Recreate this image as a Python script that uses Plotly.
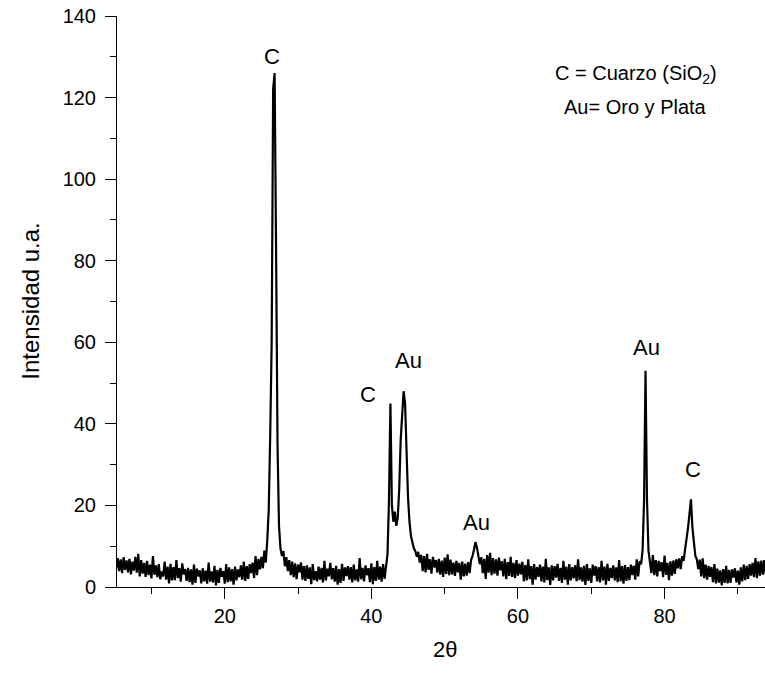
import numpy as np
import plotly.graph_objects as go

# X-ray diffraction scan: 2-theta from 5.0 to 93.8 degrees, step 0.2
theta_start = 5.0
theta_step = 0.2

# Measured intensity (arbitrary units), one row per 2 degrees
intensity = [
    8.0, 4.6, 7.1, 3.9, 6.8, 3.4, 7.3, 4.2, 6.5, 3.6,        # 5.0
    6.9, 3.1, 6.2, 4.0, 7.4, 3.5, 8.1, 2.6, 6.6, 3.3,        # 7.0
    5.9, 2.5, 6.4, 2.9, 5.5, 2.1, 7.6, 3.0, 5.3, 2.4,        # 9.0
    5.6, 1.9, 3.8, 2.6, 6.2, 1.8, 5.0, 0.9, 5.7, 1.6,        # 11.0
    4.9, 1.7, 6.6, 2.2, 4.6, 1.3, 5.8, 3.1, 4.4, 1.5,        # 13.0
    4.7, 1.2, 4.3, 0.6, 5.5, 1.0, 4.5, 2.6, 4.1, 0.9,        # 15.0
    4.6, 1.4, 4.0, 0.8, 6.0, 1.3, 3.8, 1.1, 5.2, 0.4,        # 17.0
    4.2, 1.0, 4.7, 2.5, 3.9, 0.8, 5.6, 1.2, 4.8, 1.4,        # 19.0
    4.4, 0.6, 5.0, 1.6, 4.3, 2.4, 5.3, 1.8, 6.2, 1.5,        # 21.0
    5.1, 2.0, 5.6, 3.4, 6.0, 2.2, 7.6, 2.9, 6.9, 4.3,        # 23.0
    7.4, 4.6, 8.9, 6.0, 11.5, 19.0, 37.0, 60.0, 122.0, 126.0,  # 25.0
    83.0, 35.0, 15.0, 9.5, 7.6, 8.8, 5.1, 7.3, 3.9, 6.6,     # 27.0
    2.9, 6.2, 2.4, 5.8, 1.9, 5.5, 3.6, 6.0, 1.8, 5.1,        # 29.0
    1.5, 5.3, 2.0, 4.8, 0.7, 5.6, 1.7, 3.9, 1.4, 5.0,        # 31.0
    1.8, 4.7, 1.1, 6.4, 1.6, 4.5, 2.6, 5.9, 1.9, 4.6,        # 33.0
    1.3, 5.2, 0.6, 4.4, 1.0, 5.7, 1.5, 4.8, 2.7, 5.1,        # 35.0
    1.8, 4.9, 1.1, 5.5, 1.6, 4.3, 1.3, 7.1, 1.9, 4.7,        # 37.0
    1.4, 5.3, 2.9, 4.6, 1.2, 5.8, 0.7, 4.9, 1.5, 6.4,        # 39.0
    1.8, 5.0, 1.3, 5.6, 2.0, 5.2, 8.0, 21.0, 45.0, 20.0,     # 41.0
    16.0, 18.5, 15.0, 17.0, 24.0, 36.0, 42.0, 48.0, 45.0, 30.0,  # 43.0
    22.0, 16.0, 12.5, 11.0, 9.5, 8.8, 7.4, 8.6, 6.0, 7.9,    # 45.0
    3.9, 7.6, 3.6, 8.1, 4.2, 6.8, 3.3, 7.4, 4.8, 6.6,        # 47.0
    3.5, 6.9, 3.0, 6.5, 2.5, 7.2, 3.2, 8.0, 2.9, 6.7,        # 49.0
    3.1, 6.0, 2.7, 6.4, 3.6, 5.9, 1.8, 6.2, 2.6, 5.7,        # 51.0
    2.8, 6.1, 3.4, 6.6, 7.6, 9.2, 11.0, 9.6, 7.8, 5.6,       # 53.0
    7.3, 3.4, 6.9, 2.0, 7.8, 3.5, 8.4, 2.9, 7.1, 3.3,        # 55.0
    6.8, 2.8, 7.2, 4.1, 6.3, 2.6, 6.9, 1.9, 6.1, 2.7,        # 57.0
    7.4, 2.5, 5.9, 2.2, 6.6, 2.8, 5.7, 3.1, 6.2, 1.4,        # 59.0
    5.4, 1.6, 6.8, 1.9, 5.1, 0.6, 5.6, 1.8, 4.9, 2.5,        # 61.0
    5.5, 1.4, 5.0, 1.1, 6.9, 1.7, 4.8, 0.5, 5.3, 1.6,        # 63.0
    5.1, 2.3, 5.7, 1.5, 4.7, 1.0, 6.4, 1.8, 5.0, 0.6,        # 65.0
    5.6, 1.6, 4.9, 2.1, 5.3, 1.4, 6.8, 1.7, 4.8, 1.3,        # 67.0
    5.2, 0.5, 5.6, 1.5, 4.6, 1.0, 5.5, 2.8, 5.1, 1.4,        # 69.0
    4.9, 1.1, 6.4, 1.6, 5.0, 0.6, 5.7, 1.5, 4.7, 2.2,        # 71.0
    5.3, 1.6, 4.8, 1.2, 6.6, 1.4, 5.1, 0.8, 5.4, 1.5,        # 73.0
    4.9, 1.7, 5.5, 2.9, 5.2, 1.8, 6.8, 2.6, 6.3, 5.6,        # 75.0
    9.0, 21.0, 53.0, 21.5, 9.0, 6.3, 3.4, 7.8, 2.9, 6.6,     # 77.0
    2.6, 6.4, 3.9, 6.1, 2.4, 7.7, 3.0, 5.9, 1.7, 6.3,        # 79.0
    2.8, 6.5, 3.2, 6.8, 4.6, 7.0, 4.4, 7.6, 6.4, 9.2,        # 81.0
    11.5, 14.5, 18.0, 21.5, 14.5, 10.5, 7.6, 6.8, 4.4, 6.7,  # 83.0
    2.6, 7.0, 2.2, 5.5, 1.8, 5.2, 2.5, 4.9, 1.2, 5.6,        # 85.0
    0.9, 4.5, 1.1, 4.1, 0.4, 4.4, 1.0, 5.2, 0.9, 4.2,        # 87.0
    1.0, 4.3, 2.3, 4.6, 1.1, 4.0, 0.6, 4.8, 1.4, 5.5,        # 89.0
    1.7, 5.2, 2.0, 5.6, 2.8, 5.9, 2.4, 7.1, 2.2, 6.3,        # 91.0
    2.8, 6.5, 3.0, 6.6, 3.2,                                 # 93.0
]
two_theta = np.round(theta_start + theta_step * np.arange(len(intensity)), 1)

# Phase labels placed above the peaks
peak_labels = ["C", "C", "Au", "Au", "Au", "C"]
peak_label_x = [26.4, 39.6, 45.1, 54.3, 77.5, 83.9]
peak_label_y = [130.0, 47.3, 55.6, 15.9, 58.8, 28.7]

legend_lines = ["C = Cuarzo (SiO<sub>2</sub>)", "Au= Oro y Plata"]
legend_y = [125.7, 117.6]
legend_x = 76.1

FONT = "Liberation Sans, Arial, sans-serif"

fig = go.Figure()
fig.add_trace(go.Scatter(
    x=two_theta, y=intensity, mode="lines",
    line=dict(color="black", width=2.2),
    showlegend=False, hoverinfo="skip",
))

for txt, xv, yv in zip(peak_labels, peak_label_x, peak_label_y):
    fig.add_annotation(x=xv, y=yv, text=txt, showarrow=False,
                       font=dict(family=FONT, size=22, color="black"))

for txt, yv in zip(legend_lines, legend_y):
    fig.add_annotation(x=legend_x, y=yv, text=txt, showarrow=False,
                       font=dict(family=FONT, size=20, color="black"))

# Axis titles
fig.add_annotation(xref="paper", yref="paper", x=-0.134, y=0.50,
                   xanchor="center", yanchor="middle",
                   text="Intensidad u.a.", textangle=-90, showarrow=False,
                   font=dict(family=FONT, size=24, color="black"))
fig.add_annotation(xref="paper", yref="paper", x=0.506, y=-0.11,
                   xanchor="center", yanchor="middle",
                   text="2θ", showarrow=False,
                   font=dict(family=FONT, size=22, color="black"))

axis_common = dict(
    showline=True, linecolor="black", linewidth=1,
    ticks="outside", ticklen=11, tickwidth=1, tickcolor="black",
    showgrid=False, zeroline=False, mirror=False,
    tickfont=dict(family=FONT, size=20, color="black"),
)

fig.update_xaxes(range=[5.3, 93.7], tick0=0, dtick=20, ticklabelstandoff=0,
                 minor=dict(ticks="outside", ticklen=6, dtick=10, tick0=0,
                            tickcolor="black", showgrid=False),
                 **axis_common)
fig.update_yaxes(range=[0, 140], tick0=0, dtick=20, ticklabelstandoff=5,
                 minor=dict(ticks="outside", ticklen=6, dtick=10, tick0=0,
                            tickcolor="black", showgrid=False),
                 **axis_common)

fig.update_layout(
    width=765, height=674,
    margin=dict(l=117, r=0, t=16, b=87),
    plot_bgcolor="white", paper_bgcolor="white",
    font=dict(family=FONT, color="black"),
)

fig.write_html("out.html")
